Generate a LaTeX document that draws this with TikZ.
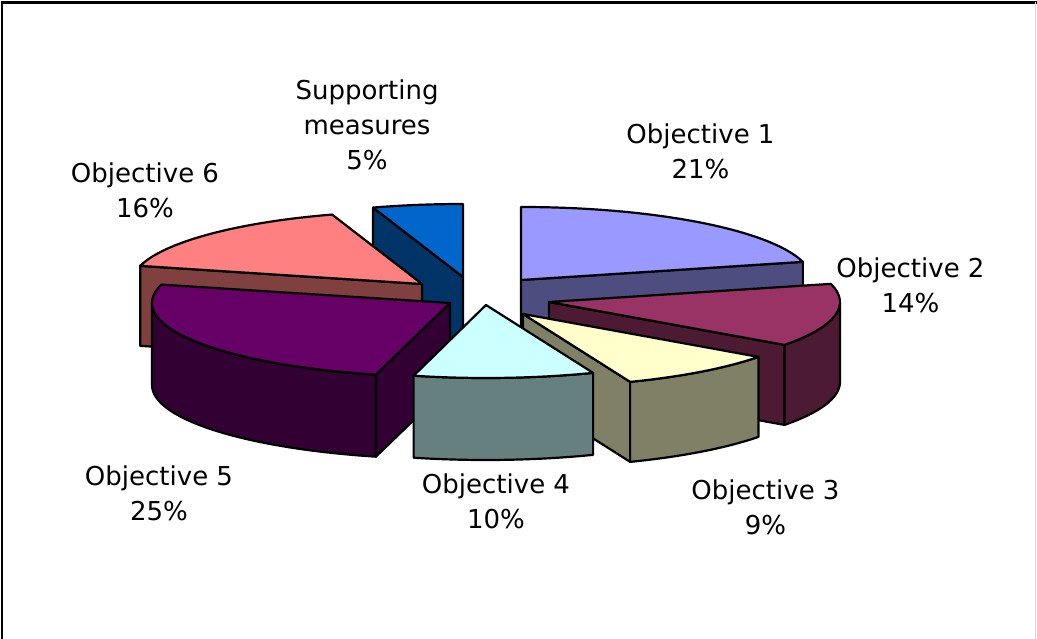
\documentclass[tikz,border=0pt]{standalone}
\usepackage{fontspec}
\setmainfont{DejaVu Sans}
\usepackage{tikz}
\usetikzlibrary{calc}

\definecolor{oneTop}{RGB}{153,153,255}
\definecolor{oneSide}{RGB}{77,77,128}
\definecolor{twoTop}{RGB}{153,51,102}
\definecolor{twoSide}{RGB}{77,26,51}
\definecolor{threeTop}{RGB}{255,255,204}
\definecolor{threeSide}{RGB}{128,128,102}
\definecolor{fourTop}{RGB}{204,255,255}
\definecolor{fourSide}{RGB}{102,128,128}
\definecolor{fiveTop}{RGB}{102,0,102}
\definecolor{fiveSide}{RGB}{51,0,51}
\definecolor{sixTop}{RGB}{255,128,128}
\definecolor{sixSide}{RGB}{128,64,64}
\definecolor{suppTop}{RGB}{0,102,204}
\definecolor{suppSide}{RGB}{0,51,102}

\begin{document}
\begin{tikzpicture}[
    x=1pt, y=1pt,
    face/.style={draw=black, line width=2.2pt, line join=round},
    rad/.style={x radius=291, y radius=73},
    bigrad/.style={x radius=298, y radius=74},
    label/.style={align=center, font=\fontsize{26}{35}\selectfont},
    every node/.style={color=black}
    ]
   \useasboundingbox (0,0) rectangle (1037,-639);
   % frame
   \draw[line width=2.2pt] (2,-639) -- (2,-2.5) -- (1037,-2.5);
   \draw[gray!30, line width=1pt] (1035.5,-2.5) -- (1035.5,-639);
   % apex of each slice
   \coordinate (o1) at (521,-280);
   \coordinate (o2) at (549,-302);
   \coordinate (o3) at (523,-314);
   \coordinate (o4) at (486,-305);
   \coordinate (o5) at (450,-303);
   \coordinate (o6) at (422,-284);
   \coordinate (os) at (463,-277);
   % supporting measures
   \draw[face, fill=suppSide] (os) -- ($(os)+(108:291 and 73)$) -- ++(0,-80) -- ($(os)+(0,-80)$) -- cycle;
   \draw[face, fill=suppTop] (os) -- ($(os)+(108:291 and 73)$) arc[rad, start angle=108, end angle=90] -- cycle;
   % objective 6
   \draw[face, fill=sixSide] (o6) -- ($(o6)+(165.6:291 and 73)$) -- ++(0,-80) -- ($(o6)+(0,-80)$) -- cycle;
   \draw[face, fill=sixTop] (o6) -- ($(o6)+(165.6:291 and 73)$) arc[rad, start angle=165.6, end angle=108] -- cycle;
   % objective 1
   \draw[face, fill=oneSide] (o1) -- ($(o1)+(14.4:291 and 73)$) -- ++(0,-80) -- ($(o1)+(0,-80)$) -- cycle;
   \draw[face, fill=oneTop] (o1) -- ($(o1)+(90:291 and 73)$) arc[rad, start angle=90, end angle=14.4] -- cycle;
   % objective 2
   \draw[face, fill=twoSide] (o2) -- ($(o2)+(-36:291 and 73)$) -- ++(0,-80) -- ($(o2)+(0,-80)$) -- cycle;
   \draw[face, fill=twoSide] ($(o2)+(0:291 and 73)$) arc[rad, start angle=0, end angle=-36] -- ++(0,-80) arc[rad, start angle=-36, end angle=0] -- cycle;
   \draw[face, fill=twoTop] (o2) -- ($(o2)+(14.4:291 and 73)$) arc[rad, start angle=14.4, end angle=-36] -- cycle;
   % objective 5
   \draw[face, fill=fiveSide] (o5) -- ($(o5)+(-104.4:298 and 74)$) -- ++(0,-82) -- ($(o5)+(0,-82)$) -- cycle;
   \draw[face, fill=fiveSide] ($(o5)+(-104.4:298 and 74)$) arc[bigrad, start angle=-104.4, end angle=-180] -- ++(0,-82) arc[bigrad, start angle=-180, end angle=-104.4] -- cycle;
   \draw[face, fill=fiveTop] (o5) -- ($(o5)+(-104.4:298 and 74)$) arc[bigrad, start angle=-104.4, end angle=-194.4] -- cycle;
   % objective 3
   \draw[face, fill=threeSide] (o3) -- ($(o3)+(-68.4:291 and 73)$) -- ++(0,-80) -- ($(o3)+(0,-80)$) -- cycle;
   \draw[face, fill=threeSide] ($(o3)+(-36:291 and 73)$) arc[rad, start angle=-36, end angle=-68.4] -- ++(0,-80) arc[rad, start angle=-68.4, end angle=-36] -- cycle;
   \draw[face, fill=threeTop] (o3) -- ($(o3)+(-36:291 and 73)$) arc[rad, start angle=-36, end angle=-68.4] -- cycle;
   % objective 4
   \draw[face, fill=fourSide] ($(o4)+(-68.4:291 and 73)$) arc[rad, start angle=-68.4, end angle=-104.4] -- ++(0,-82) arc[rad, start angle=-104.4, end angle=-68.4] -- cycle;
   \draw[face, fill=fourTop] (o4) -- ($(o4)+(-68.4:291 and 73)$) arc[rad, start angle=-68.4, end angle=-104.4] -- cycle;
   % labels
   \node[label] (lsupp) at (367,-125) {Supporting\\measures\\5\%};
   \node[label] (l1) at (700.5,-151) {Objective 1\\21\%};
   \node[label] (l2) at (910.5,-285) {Objective 2\\14\%};
   \node[label] (l3) at (765.5,-507) {Objective 3\\9\%};
   \node[label] (l4) at (496,-501) {Objective 4\\10\%};
   \node[label] (l5) at (159,-493) {Objective 5\\25\%};
   \node[label] (l6) at (145,-190) {Objective 6\\16\%};
\end{tikzpicture}
\end{document}
